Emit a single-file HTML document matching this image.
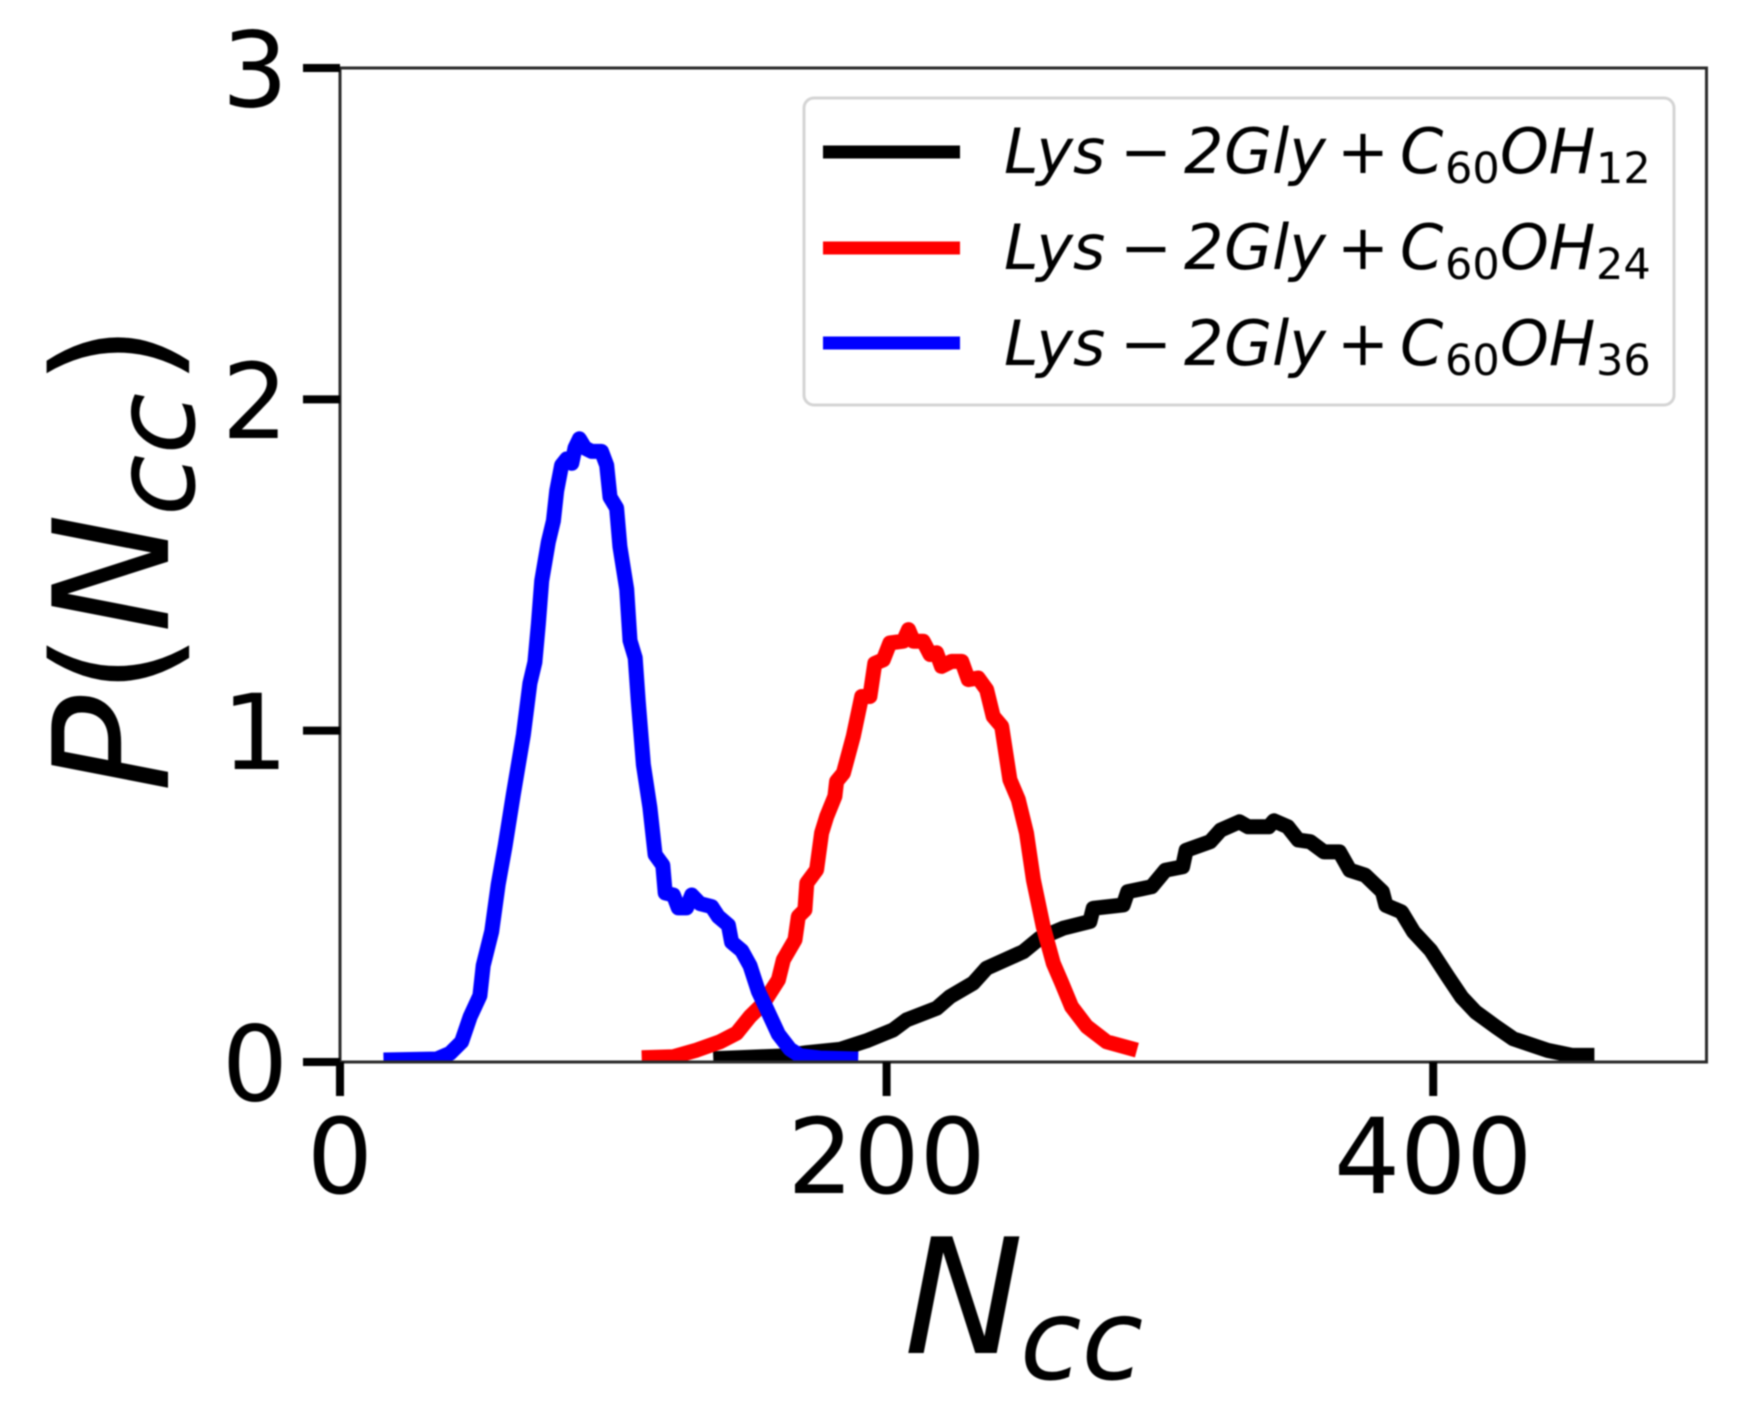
<!DOCTYPE html>
<html lang="en">
<head>
<meta charset="utf-8">
<title>P(Ncc) distributions</title>
<style>
html,body{margin:0;padding:0;background:#fff;}
#chart{display:block;width:1744px;height:1419px;filter:blur(0.7px);}
text{font-family:"DejaVu Sans","Liberation Sans",sans-serif;fill:#000;}
.it{font-style:italic;}
.tick-label{font-size:104px;}
.leg{font-size:62px;font-style:italic;}
.leg .up{font-style:normal;}
.leg .sub{font-size:43px;font-style:normal;}
</style>
</head>
<body>
<svg id="chart" xmlns="http://www.w3.org/2000/svg" width="1744" height="1419" viewBox="0 0 1744 1419">
  <rect x="0" y="0" width="1744" height="1419" fill="#fff"/>
  <defs>
    <clipPath id="plot-clip"><rect x="340" y="68" width="1366.5" height="994"/></clipPath>
  </defs>
  <g id="series" clip-path="url(#plot-clip)"></g>
  <rect x="340" y="68" width="1366.5" height="994" fill="none" stroke="#2a2a2a" stroke-width="3"/>
  <g id="ticks"></g>

  <g>
    <rect x="804" y="98" width="870" height="307" rx="10" ry="10" fill="#fff" stroke="#d4d4d4" stroke-width="3"/>
    <line x1="823" x2="960" y1="152" y2="152" stroke="#000" stroke-width="13"/>
    <line x1="823" x2="960" y1="248" y2="248" stroke="#f00" stroke-width="13"/>
    <line x1="823" x2="960" y1="343" y2="343" stroke="#00f" stroke-width="13"/>
    <text class="leg" y="173"><tspan x="1004">Lys</tspan><tspan x="1120" class="up">−</tspan><tspan x="1184">2</tspan><tspan x="1224">Gly</tspan><tspan x="1337" class="up">+</tspan><tspan x="1400">C</tspan><tspan x="1445" y="183" class="sub">60</tspan><tspan x="1500" y="173">OH</tspan><tspan x="1596" y="183" class="sub">12</tspan></text>
    <text class="leg" y="269"><tspan x="1004">Lys</tspan><tspan x="1120" class="up">−</tspan><tspan x="1184">2</tspan><tspan x="1224">Gly</tspan><tspan x="1337" class="up">+</tspan><tspan x="1400">C</tspan><tspan x="1445" y="279" class="sub">60</tspan><tspan x="1500" y="269">OH</tspan><tspan x="1596" y="279" class="sub">24</tspan></text>
    <text class="leg" y="365"><tspan x="1004">Lys</tspan><tspan x="1120" class="up">−</tspan><tspan x="1184">2</tspan><tspan x="1224">Gly</tspan><tspan x="1337" class="up">+</tspan><tspan x="1400">C</tspan><tspan x="1445" y="375" class="sub">60</tspan><tspan x="1500" y="365">OH</tspan><tspan x="1596" y="375" class="sub">36</tspan></text>
  </g>

  <g>
    <text class="it" font-size="160" x="904" y="1353">N</text>
    <text class="it" font-size="112" x="1020" y="1379" letter-spacing="0">cc</text>
  </g>
  <g transform="translate(168,0) rotate(-90)">
    <text class="it" font-size="160" x="-792" y="0">P</text>
    <text font-size="160" x="-695" y="0">(</text>
    <text class="it" font-size="160" x="-633" y="0">N</text>
    <text class="it" font-size="112" x="-516" y="26">cc</text>
    <text font-size="160" x="-386" y="0">)</text>
  </g>
</svg>
<script>
const xTickValues = [0, 200, 400];
const yTickValues = [0, 1, 2, 3];
const xDomain = [0, 500];
const yDomain = [0, 3];

const blackN = [136.6,162.2,170.8,183,192.7,202.4,207.3,218.3,223.2,231.7,236.6,250,256.1,264.7,274.4,275.6,286.6,288.2,297,302,308.3,309.6,318.4,322.2,329.1,332.3,339.8,341.7,346.8,350.6,355,360,365.7,369.5,375.1,381.4,382.7,388.4,392.8,399.1,405.4,410.4,415.5,423,429.3,441.9,450.7,459];
const blackP = [0.01,0.018,0.028,0.038,0.064,0.097,0.127,0.162,0.197,0.238,0.283,0.333,0.374,0.404,0.424,0.464,0.474,0.514,0.529,0.579,0.589,0.639,0.665,0.70,0.725,0.71,0.71,0.728,0.71,0.67,0.665,0.634,0.634,0.579,0.564,0.514,0.473,0.453,0.393,0.337,0.257,0.196,0.151,0.106,0.07,0.035,0.02,0.02];

const redN = [110.4,122,130.5,139,145.1,150,154.9,160.4,162.2,166.5,167.7,170.1,170.8,174.4,176.2,178.1,181.1,181.7,184.2,187.8,190.9,193.9,195.7,198.8,201.2,206.1,208,209.8,213.4,215.9,218.3,220.1,223.8,227.5,229.9,233.5,236.6,239,242.1,245.1,248.2,251.2,253.7,257.3,261,264.1,267.7,273.2,280.5,291.6];
const redP = [0.013,0.016,0.036,0.061,0.087,0.137,0.177,0.248,0.308,0.369,0.439,0.459,0.54,0.58,0.691,0.741,0.802,0.847,0.872,0.983,1.103,1.103,1.203,1.214,1.265,1.27,1.305,1.27,1.27,1.23,1.235,1.194,1.209,1.209,1.154,1.159,1.124,1.043,1.013,0.852,0.792,0.691,0.55,0.409,0.298,0.238,0.167,0.107,0.061,0.036];

const blueN = [15.9,35.4,40.2,44.5,47.6,51.2,52.4,55.5,57.9,60.4,63.4,67.1,69.5,71.3,72.6,73.8,76.2,78.1,79.3,81.1,82.9,84.8,86,87.6,89.6,92.1,95.7,97.6,98.8,101.2,102.4,104.9,106.1,108,109.1,111,113.4,115.3,118.1,119,122,123.8,126.8,128.7,131.7,136,138.4,142.1,143.3,147,150,153.1,156.1,160.4,164.6,168.3,175.6,189.6];
const blueP = [0.006,0.009,0.026,0.061,0.136,0.2,0.291,0.394,0.536,0.652,0.807,0.988,1.143,1.207,1.323,1.452,1.569,1.633,1.724,1.801,1.82,1.807,1.853,1.881,1.853,1.843,1.843,1.801,1.705,1.672,1.556,1.427,1.272,1.22,1.091,0.897,0.768,0.626,0.594,0.51,0.504,0.465,0.465,0.504,0.478,0.469,0.439,0.413,0.362,0.336,0.291,0.213,0.161,0.084,0.039,0.019,0.012,0.009];

const SVG_NS = 'http://www.w3.org/2000/svg';
const plotLeft = 340, plotRight = 1706.5, plotTop = 68, plotBottom = 1062;

function xScale(v) {
  return plotLeft + (v - xDomain[0]) / (xDomain[1] - xDomain[0]) * (plotRight - plotLeft);
}
function yScale(v) {
  return plotBottom - (v - yDomain[0]) / (yDomain[1] - yDomain[0]) * (plotBottom - plotTop);
}
function linePath(xs, ys) {
  return xs.map(function (x, i) {
    return (i ? 'L' : 'M') + xScale(x).toFixed(1) + ' ' + yScale(ys[i]).toFixed(1);
  }).join(' ');
}

const seriesGroup = document.getElementById('series');
function addSeries(name, xs, ys, color) {
  const p = document.createElementNS(SVG_NS, 'path');
  p.setAttribute('d', linePath(xs, ys));
  p.setAttribute('fill', 'none');
  p.setAttribute('stroke', color);
  p.setAttribute('stroke-width', '15');
  p.setAttribute('stroke-linejoin', 'round');
  
  
  seriesGroup.appendChild(p);
}
addSeries('series-oh12-line', blackN, blackP, '#000');
addSeries('series-oh24-line', redN, redP, '#f00');
addSeries('series-oh36-line', blueN, blueP, '#00f');

const tickGroup = document.getElementById('ticks');
xTickValues.forEach(function (v) {
  const t = document.createElementNS(SVG_NS, 'line');
  t.setAttribute('x1', xScale(v));
  t.setAttribute('x2', xScale(v));
  t.setAttribute('y1', plotBottom);
  t.setAttribute('y2', plotBottom + 34);
  t.setAttribute('stroke', '#000');
  t.setAttribute('stroke-width', '8');
  
  
  tickGroup.appendChild(t);
  const l = document.createElementNS(SVG_NS, 'text');
  l.setAttribute('class', 'tick-label');
  l.setAttribute('x', xScale(v));
  l.setAttribute('y', plotBottom + 131);
  l.setAttribute('text-anchor', 'middle');
  
  
  l.textContent = String(v);
  tickGroup.appendChild(l);
});
yTickValues.forEach(function (v) {
  const t = document.createElementNS(SVG_NS, 'line');
  t.setAttribute('x1', plotLeft - 37);
  t.setAttribute('x2', plotLeft);
  t.setAttribute('y1', yScale(v));
  t.setAttribute('y2', yScale(v));
  t.setAttribute('stroke', '#000');
  t.setAttribute('stroke-width', '8');
  
  
  tickGroup.appendChild(t);
  const l = document.createElementNS(SVG_NS, 'text');
  l.setAttribute('class', 'tick-label');
  l.setAttribute('x', plotLeft - 52);
  l.setAttribute('y', yScale(v) + 38.5);
  l.setAttribute('text-anchor', 'end');
  
  
  l.textContent = String(v);
  tickGroup.appendChild(l);
});
</script>
</body>
</html>
